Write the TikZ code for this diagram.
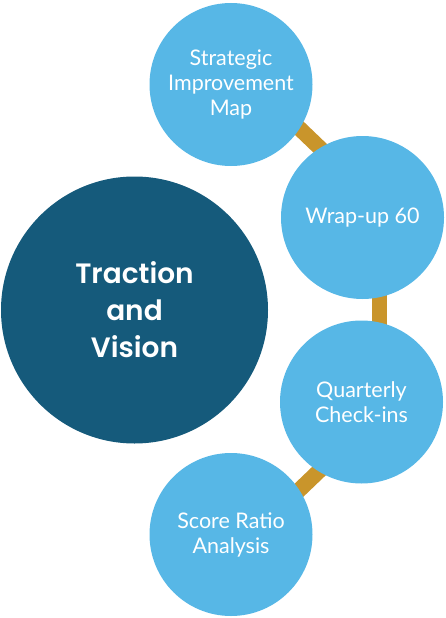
\documentclass[tikz,border=0pt]{standalone}
\usepackage{fontspec}
\setmainfont{Lato}
\newfontfamily\titlefont{Poppins}[UprightFont=* SemiBold]
\definecolor{darkblue}{HTML}{155A7B}
\definecolor{lightblue}{HTML}{57B7E6}
\definecolor{gold}{HTML}{C9952B}
\begin{document}
\begin{tikzpicture}[x=1pt,y=-1pt,
  small/.style={circle,fill=lightblue,minimum size=163pt,inner sep=0pt,text=white,align=center,
    font=\fontsize{21.5}{25}\selectfont},
  big/.style={circle,fill=darkblue,minimum size=267pt,inner sep=0pt,text=white,align=center,
    font=\titlefont\fontsize{28}{37}\selectfont},
  link/.style={draw=gold,line width=15.5pt}]
\useasboundingbox (0,0) rectangle (445,618);
\coordinate (a1) at (270,100.2);
\coordinate (a2) at (330,157.7);
\coordinate (b1) at (379.5,250);
\coordinate (b2) at (379.5,370);
\coordinate (d1) at (329.8,460.7);
\coordinate (d2) at (275.1,513.1);
\draw[link] (a1) -- (a2);
\draw[link] (b1) -- (b2);
\draw[link] (d1) -- (d2);
\node[big] (tv) at (134.5,310) {Traction\\and\\Vision};
\node[small] (s1) at (231,84.5) {Strategic\\Improvement\\Map};
\node[small] (s2) at (362.5,217.5) {Wrap-up 60};
\node[small] (s3) at (361.5,402) {Quarterly\\Check-ins};
\node[small] (s4) at (231,534.5) {Score Ratio\\Analysis};
\end{tikzpicture}
\end{document}
